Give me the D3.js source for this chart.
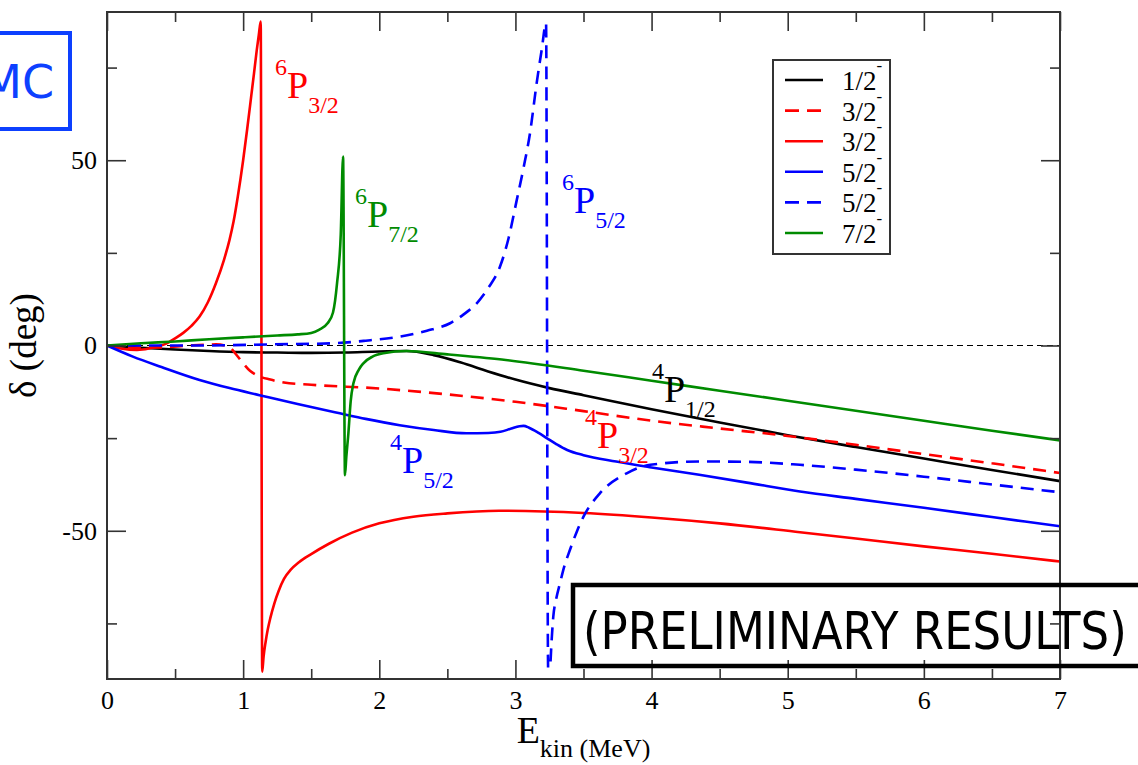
<!DOCTYPE html>
<html lang="en">
<head>
<meta charset="UTF-8">
<title>Phase shifts vs kinetic energy</title>
<script src="https://d3js.org/d3.v7.min.js"></script>
<style>
  body { margin: 0; background: #fff; }
  svg { display: block; }
  .axis text { font-family: "Liberation Serif", "Times New Roman", serif; font-size: 26px; fill: #000; }
  .axis line { stroke: #333; stroke-width: 1.6; }
  .axis path { display: none; }
  .serif { font-family: "Liberation Serif", "Times New Roman", serif; }
</style>
</head>
<body>
<script>
// phase shifts (deg), E in MeV
const E_half = [0, 0.25, 0.5, 0.75, 1.0, 1.25, 1.5, 1.75, 2.0, 2.2, 2.4, 2.6, 2.8, 3.0, 3.25, 3.5, 4.0, 4.5, 5.0, 5.5, 6.0, 6.5, 7.0];
const D_half = [0, -0.6, -1.1, -1.5, -1.8, -1.9, -2.0, -1.9, -1.6, -1.5, -2.6, -4.6, -7.0, -9.2, -11.5, -13.4, -17.2, -20.8, -24.2, -27.4, -30.5, -33.6, -36.6];

const E_32dash = [0, 0.2, 0.4, 0.6, 0.8, 0.9, 0.95, 1.0, 1.05, 1.1, 1.2, 1.3, 1.5, 2.0, 2.5, 3.0, 3.5, 4.0, 4.5, 5.0, 5.5, 6.0, 6.5, 7.0];
const D_32dash = [0, -0.6, -0.5, 0, 0.3, -0.5, -2.5, -4.8, -6.8, -8.0, -9.2, -10.0, -10.6, -11.6, -13.2, -15.2, -17.7, -20.3, -22.4, -24.4, -26.8, -29.3, -31.8, -34.4];

const E_32res = [0, 0.1, 0.22, 0.35, 0.45, 0.5, 0.56, 0.62, 0.68, 0.74, 0.8, 0.86, 0.9, 0.93, 0.96, 1.0, 1.03, 1.06, 1.08, 1.1, 1.115, 1.129, 1.14, 1.15, 1.165, 1.18, 1.2, 1.23, 1.26, 1.3, 1.35, 1.41, 1.5, 1.63, 1.8, 2.0, 2.25, 2.5, 2.88, 3.5, 4.0, 4.5, 5.09, 5.5, 6.0, 6.5, 7.0];
const D_32res = [0, -0.8, -1.2, -0.5, 0.8, 1.9, 3.4, 5.3, 7.8, 11.6, 16.8, 23.2, 28.5, 33.5, 40, 50, 58.5, 67.5, 73.5, 79.7, 83.8, 87.4, -88, -84, -80, -76.8, -73.5, -69.5, -66.3, -63, -60.5, -58.5, -56.3, -53.5, -50.5, -48, -46.2, -45.3, -44.6, -45.2, -46.4, -48, -50.4, -52.1, -54.2, -56.2, -58.3];

const E_52 = [0, 0.19, 0.4, 0.68, 0.9, 1.12, 1.4, 1.71, 1.9, 2.15, 2.4, 2.64, 2.8, 2.89, 2.97, 3.03, 3.06, 3.1, 3.17, 3.23, 3.3, 3.38, 3.5, 3.74, 4.0, 4.35, 4.7, 5.09, 5.5, 6.0, 6.5, 7.0];
const D_52 = [0, -3.0, -5.8, -9.3, -11.5, -13.4, -15.8, -18.3, -19.8, -21.5, -22.8, -23.7, -23.6, -23.3, -22.4, -21.8, -21.7, -22.2, -23.6, -25, -26.6, -28.2, -29.6, -31.3, -32.9, -34.9, -37, -39.4, -41.4, -43.8, -46.3, -48.8];

const E_52res = [0, 0.68, 1.2, 1.66, 1.9, 2.15, 2.35, 2.52, 2.62, 2.716, 2.8, 2.887, 2.95, 3.01, 3.06, 3.107, 3.156, 3.193, 3.225, 3.24, 3.254, 3.266, 3.278, 3.3, 3.327, 3.36, 3.4, 3.45, 3.5, 3.62, 3.817, 3.99, 4.355, 4.7, 5.09, 5.5, 6.0, 6.5, 7.0];
const D_52res = [0, 0, 0.3, 0.6, 1.3, 2.4, 4.0, 6.0, 8.4, 11.4, 15.5, 21.3, 29, 39.3, 48, 57.3, 70.8, 79.8, 87, -87, -86.7, -79.5, -73.2, -68.3, -64.2, -59.5, -55.2, -50.3, -46.2, -39.9, -34.5, -32.2, -31.3, -31.4, -32.2, -33.5, -35.4, -37.5, -39.6];

const E_72 = [0, 0.25, 0.5, 0.75, 1.0, 1.25, 1.4, 1.5, 1.56, 1.62, 1.66, 1.69, 1.717, 1.734, 1.748, 1.758, 1.773, 1.79, 1.81, 1.85, 1.883, 1.95, 2.03, 2.2, 2.5, 2.9, 3.5, 4.0, 4.5, 5.0, 5.5, 6.0, 6.5, 7.0];
const D_72 = [0, 0.6, 1.1, 1.7, 2.2, 2.7, 3.0, 3.4, 4.3, 6.0, 8.9, 16.9, 30, 51, -35, -30, -23.7, -15, -10.2, -6.5, -4.8, -3, -2.1, -1.5, -2.4, -3.8, -6.8, -9.5, -12.2, -14.9, -17.6, -20.3, -23, -25.6];

const legendLabels = ["1/2", "3/2", "3/2", "5/2", "5/2", "7/2"];
const xTicks = [0, 1, 2, 3, 4, 5, 6, 7];
const xMinor = [0.5, 1.5, 2.5, 3.5, 4.5, 5.5, 6.5];
const yTicks = [-50, 0, 50];
const yMinor = [-75, -25, 25, 75];

// curve annotations: sup, sub, anchor (E, delta)
const notes = [
  { sup: "6", sub: "3/2", e: 1.234, d: 66.8, color: "#ff0000" },
  { sup: "6", sub: "7/2", e: 1.822, d: 32.0, color: "#008b00" },
  { sup: "6", sub: "5/2", e: 3.342, d: 35.7, color: "#0000ff" },
  { sup: "4", sub: "1/2", e: 4.003, d: -15.3, color: "#000000" },
  { sup: "4", sub: "3/2", e: 3.511, d: -27.7, color: "#ff0000" },
  { sup: "4", sub: "5/2", e: 2.079, d: -34.4, color: "#0000ff" }
];

const W = 1138, H = 765;
const svg = d3.select("body").append("svg").attr("width", W).attr("height", H);

const x = d3.scaleLinear().domain([0, 7]).range([107, 1060]);
const y = d3.scaleLinear().domain([-90, 90]).range([679, 12]);

const series = [
  { e: E_half,   d: D_half,   color: "#000000", dash: null },
  { e: E_32dash, d: D_32dash, color: "#ff0000", dash: "13,8" },
  { e: E_32res,  d: D_32res,  color: "#ff0000", dash: null },
  { e: E_52,     d: D_52,     color: "#0000ff", dash: null },
  { e: E_52res,  d: D_52res,  color: "#0000ff", dash: "13,8" },
  { e: E_72,     d: D_72,     color: "#008b00", dash: null }
];

// zero line
svg.append("line")
  .attr("x1", x(0)).attr("x2", x(7))
  .attr("y1", y(0)).attr("y2", y(0))
  .attr("stroke", "#000").attr("stroke-width", 1.2)
  .attr("stroke-dasharray", "6,4");

const line = d3.line()
  .x(p => x(p[0]))
  .y(p => y(p[1]))
  .curve(d3.curveMonotoneX);

series.forEach(s => {
  const pts = s.e.map((v, i) => [v, s.d[i]]);
  svg.append("path")
    .datum(pts)
    .attr("d", line)
    .attr("fill", "none")
    .attr("stroke", s.color)
    .attr("stroke-width", 2.6)
    .attr("stroke-dasharray", s.dash);
});

// axes, ticks inward on all sides
const fmt = d => String(d);
svg.append("g").attr("class", "axis")
  .attr("transform", `translate(0,${y(-90)})`)
  .call(d3.axisBottom(x).tickValues(xTicks).tickSize(-19).tickPadding(12).tickFormat(fmt));
svg.append("g").attr("class", "axis")
  .attr("transform", `translate(0,${y(-90)})`)
  .call(d3.axisBottom(x).tickValues(xMinor).tickSize(-10).tickFormat(""));
svg.append("g").attr("class", "axis")
  .attr("transform", `translate(0,${y(90)})`)
  .call(d3.axisTop(x).tickValues(xTicks).tickSize(-19).tickFormat(""));
svg.append("g").attr("class", "axis")
  .attr("transform", `translate(0,${y(90)})`)
  .call(d3.axisTop(x).tickValues(xMinor).tickSize(-10).tickFormat(""));
svg.append("g").attr("class", "axis")
  .attr("transform", `translate(${x(0)},0)`)
  .call(d3.axisLeft(y).tickValues(yTicks).tickSize(-19).tickPadding(10).tickFormat(fmt));
svg.append("g").attr("class", "axis")
  .attr("transform", `translate(${x(0)},0)`)
  .call(d3.axisLeft(y).tickValues(yMinor).tickSize(-10).tickFormat(""));
svg.append("g").attr("class", "axis")
  .attr("transform", `translate(${x(7)},0)`)
  .call(d3.axisRight(y).tickValues(yTicks).tickSize(-19).tickFormat(""));
svg.append("g").attr("class", "axis")
  .attr("transform", `translate(${x(7)},0)`)
  .call(d3.axisRight(y).tickValues(yMinor).tickSize(-10).tickFormat(""));

svg.append("rect")
  .attr("x", x(0)).attr("y", y(90))
  .attr("width", x(7) - x(0)).attr("height", y(-90) - y(90))
  .attr("fill", "none").attr("stroke", "#333").attr("stroke-width", 2);

// axis titles
const xt = svg.append("text").attr("class", "serif")
  .attr("x", (x(0) + x(7)) / 2).attr("y", 743)
  .attr("text-anchor", "middle");
xt.append("tspan").attr("font-size", 38).text("E");
xt.append("tspan").attr("font-size", 26).attr("dy", 14).text("kin (MeV)");

svg.append("text").attr("class", "serif")
  .attr("transform", `translate(36,${y(0)}) rotate(-90)`)
  .attr("text-anchor", "middle")
  .attr("font-size", 37)
  .text("δ (deg)");

// curve labels
notes.forEach(n => {
  const t = svg.append("text").attr("class", "serif")
    .attr("x", x(n.e)).attr("y", y(n.d))
    .attr("fill", n.color);
  t.append("tspan").attr("font-size", 24).attr("dy", -23).text(n.sup);
  t.append("tspan").attr("font-size", 38).attr("dy", 23).text("P");
  t.append("tspan").attr("font-size", 24).attr("dy", 15).text(n.sub);
});

// legend
const lg = svg.append("g");
lg.append("rect")
  .attr("x", 773).attr("y", 60).attr("width", 117).attr("height", 194)
  .attr("fill", "#fff").attr("stroke", "#333").attr("stroke-width", 2);
series.forEach((s, i) => {
  const ry = 80 + i * 30.6;
  lg.append("line")
    .attr("x1", 785).attr("x2", 823).attr("y1", ry).attr("y2", ry)
    .attr("stroke", s.color).attr("stroke-width", 2.6)
    .attr("stroke-dasharray", s.dash ? "14,8" : null);
  const t = lg.append("text").attr("class", "serif")
    .attr("x", 842).attr("y", ry + 10).attr("font-size", 27);
  t.append("tspan").text(legendLabels[i]);
  t.append("tspan").attr("font-size", 17).attr("dy", -19).text("-");
});

// method box at top-left, cut by the edge
svg.append("rect")
  .attr("x", -10).attr("y", 33).attr("width", 80).attr("height", 96)
  .attr("fill", "none").attr("stroke", "#0d40ff").attr("stroke-width", 4);
svg.append("text")
  .attr("x", 54).attr("y", 98)
  .attr("text-anchor", "end")
  .attr("font-family", "'Comic Sans MS', 'DejaVu Sans', sans-serif")
  .attr("font-size", 46)
  .attr("fill", "#0d40ff")
  .text("MC");

// preliminary stamp
svg.append("rect")
  .attr("x", 573).attr("y", 585).attr("width", 620).attr("height", 81)
  .attr("fill", "none").attr("stroke", "#000").attr("stroke-width", 4.5);
const stamp = svg.append("text")
  .attr("font-family", "'Comic Sans MS', 'DejaVu Sans', sans-serif")
  .attr("font-size", 52)
  .attr("fill", "#000")
  .text("(PRELIMINARY RESULTS)");
const sx = 544 / stamp.node().getComputedTextLength();
stamp.attr("transform", `translate(583,649) scale(${sx},1)`);
</script>
</body>
</html>
